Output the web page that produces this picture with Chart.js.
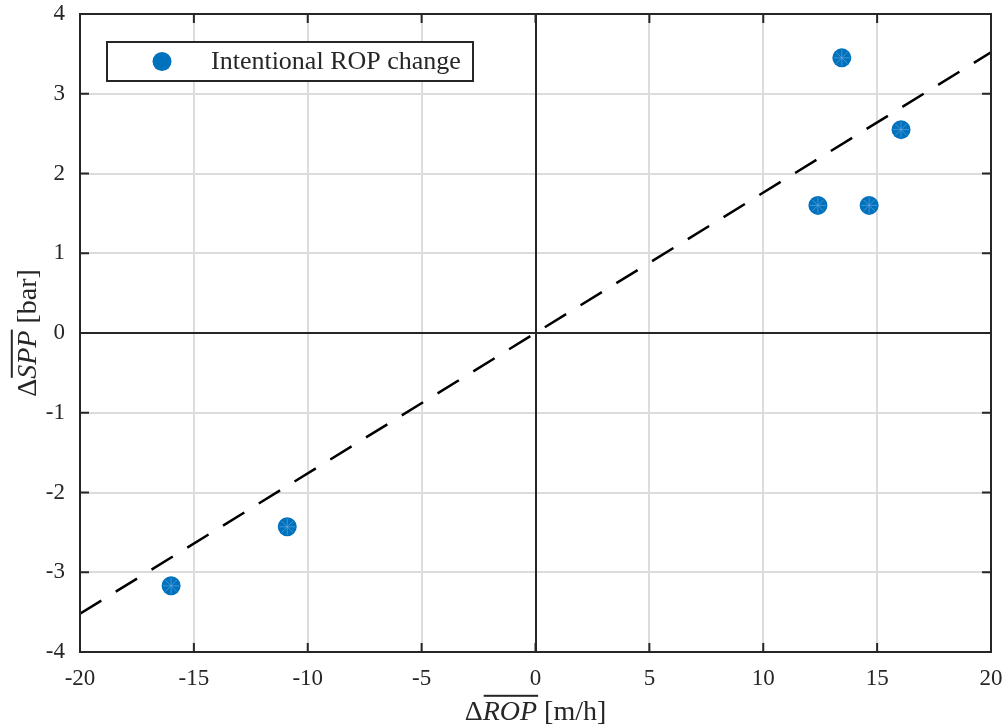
<!DOCTYPE html>
<html>
<head>
<meta charset="utf-8">
<script src="https://cdn.jsdelivr.net/npm/chart.js@4/dist/chart.umd.min.js"></script>
<style>
  html,body{margin:0;padding:0;background:#fff;}
  canvas{display:block;}
</style>
</head>
<body>
<canvas id="c" width="1007" height="727"></canvas>
<script>
// measured points: mean ROP change vs mean SPP change
const ropChange = [-16.0, -10.9, 12.4, 13.45, 14.65, 16.05];
const sppChange = [-3.17, -2.43, 1.60, 3.45, 1.60, 2.55];
// fitted trend line (through origin)
const fitX = [-20, 20];
const fitY = [-3.52, 3.52];
const legendLabel = 'Intentional ROP change';

const FONT = "'Liberation Serif','Times New Roman',serif";
const AXIS = '#262626';
const BLUE = '#0072BD';

const pts = ropChange.map((x, i) => ({ x, y: sppChange[i] }));
const fit = fitX.map((x, i) => ({ x, y: fitY[i] }));

// draw "Δ" + italic overlined part + rest, centered at (0,0) in current transform
function drawMathLabel(ctx, pre, ital, post, size) {
  const norm = `${size}px ${FONT}`;
  const it = `italic ${size}px ${FONT}`;
  ctx.font = norm; const w1 = ctx.measureText(pre).width;
  ctx.font = it; const w2 = ctx.measureText(ital).width;
  ctx.font = norm; const w3 = ctx.measureText(post).width;
  let x = -(w1 + w2 + w3) / 2;
  ctx.textBaseline = 'alphabetic';
  ctx.textAlign = 'left';
  ctx.fillStyle = AXIS;
  ctx.font = norm; ctx.fillText(pre, x, 0); x += w1;
  ctx.font = it; ctx.fillText(ital, x, 0);
  ctx.fillRect(x + 1, -size * 0.9, w2, 2);
  x += w2;
  ctx.font = norm; ctx.fillText(post, x, 0);
}

const framePlugin = {
  id: 'frame',
  beforeDatasetsDraw(chart) {
    const { ctx, chartArea: { left, right, top, bottom }, scales: { x, y } } = chart;
    ctx.save();
    ctx.strokeStyle = AXIS;
    ctx.lineWidth = 2;
    ctx.beginPath();
    const x0 = Math.round(x.getPixelForValue(0));
    const y0 = Math.round(y.getPixelForValue(0));
    ctx.moveTo(x0, top); ctx.lineTo(x0, bottom);
    ctx.moveTo(left, y0); ctx.lineTo(right, y0);
    ctx.stroke();
    ctx.restore();
  },
  afterDraw(chart) {
    const { ctx, chartArea: { left, right, top, bottom }, scales: { x, y } } = chart;
    ctx.save();
    // inward ticks
    ctx.strokeStyle = AXIS;
    ctx.lineWidth = 2;
    ctx.beginPath();
    const tl = 9;
    x.ticks.forEach(t => {
      const px = x.getPixelForValue(t.value);
      ctx.moveTo(px, bottom); ctx.lineTo(px, bottom - tl);
      ctx.moveTo(px, top); ctx.lineTo(px, top + tl);
    });
    y.ticks.forEach(t => {
      const py = y.getPixelForValue(t.value);
      ctx.moveTo(left, py); ctx.lineTo(left + tl, py);
      ctx.moveTo(right, py); ctx.lineTo(right - tl, py);
    });
    ctx.stroke();
    // box
    ctx.strokeRect(left, top, right - left, bottom - top);

    // legend
    const lx = 107, ly = 42, lw = 366, lh = 39;
    ctx.fillStyle = '#fff';
    ctx.fillRect(lx, ly, lw, lh);
    ctx.strokeStyle = AXIS;
    ctx.lineWidth = 2;
    ctx.strokeRect(lx, ly, lw, lh);
    ctx.fillStyle = BLUE;
    ctx.beginPath();
    ctx.arc(162, ly + lh / 2, 9.5, 0, Math.PI * 2);
    ctx.fill();
    ctx.fillStyle = AXIS;
    ctx.font = `26px ${FONT}`;
    ctx.textAlign = 'left';
    ctx.textBaseline = 'middle';
    ctx.fillText(legendLabel, 211, ly + lh / 2 + 1);

    // axis titles
    ctx.save();
    ctx.translate((left + right) / 2, 720);
    drawMathLabel(ctx, 'Δ', 'ROP', ' [m/h]', 28);
    ctx.restore();
    ctx.save();
    ctx.translate(36, (top + bottom) / 2);
    ctx.rotate(-Math.PI / 2);
    drawMathLabel(ctx, 'Δ', 'SPP', ' [bar]', 28);
    ctx.restore();
    ctx.restore();
  }
};

new Chart(document.getElementById('c'), {
  type: 'scatter',
  data: {
    datasets: [
      {
        label: 'fit',
        data: fit,
        showLine: true,
        borderColor: '#000',
        borderWidth: 2.5,
        borderDash: [25, 17],
        pointRadius: 0,
        order: 3
      },
      {
        label: legendLabel,
        data: pts,
        backgroundColor: BLUE,
        borderWidth: 0,
        pointRadius: 9.5,
        order: 2
      },
      {
        label: 'marks',
        data: pts,
        pointStyle: 'star',
        pointRadius: 8,
        borderColor: 'rgba(110,170,225,0.6)',
        borderWidth: 1,
        backgroundColor: 'transparent',
        order: 1
      }
    ]
  },
  options: {
    responsive: false,
    animation: false,
    events: [],
    layout: { padding: { top: 14, right: 16, left: 0, bottom: 0 } },
    plugins: { legend: { display: false }, tooltip: { enabled: false } },
    scales: {
      x: {
        type: 'linear', min: -20, max: 20,
        ticks: { stepSize: 5, color: AXIS, padding: 13, font: { family: FONT, size: 23 } },
        grid: { color: '#dcdcdc', lineWidth: 2, drawTicks: false },
        border: { display: false },
        afterFit(s) { s.height = 75; s.paddingLeft = 0; s.paddingRight = 0; }
      },
      y: {
        type: 'linear', min: -4, max: 4,
        ticks: { stepSize: 1, color: AXIS, padding: 15, font: { family: FONT, size: 23 } },
        grid: { color: '#dcdcdc', lineWidth: 2, drawTicks: false },
        border: { display: false },
        afterFit(s) { s.width = 80; s.paddingTop = 0; s.paddingBottom = 0; }
      }
    }
  },
  plugins: [framePlugin]
});
</script>
</body>
</html>
